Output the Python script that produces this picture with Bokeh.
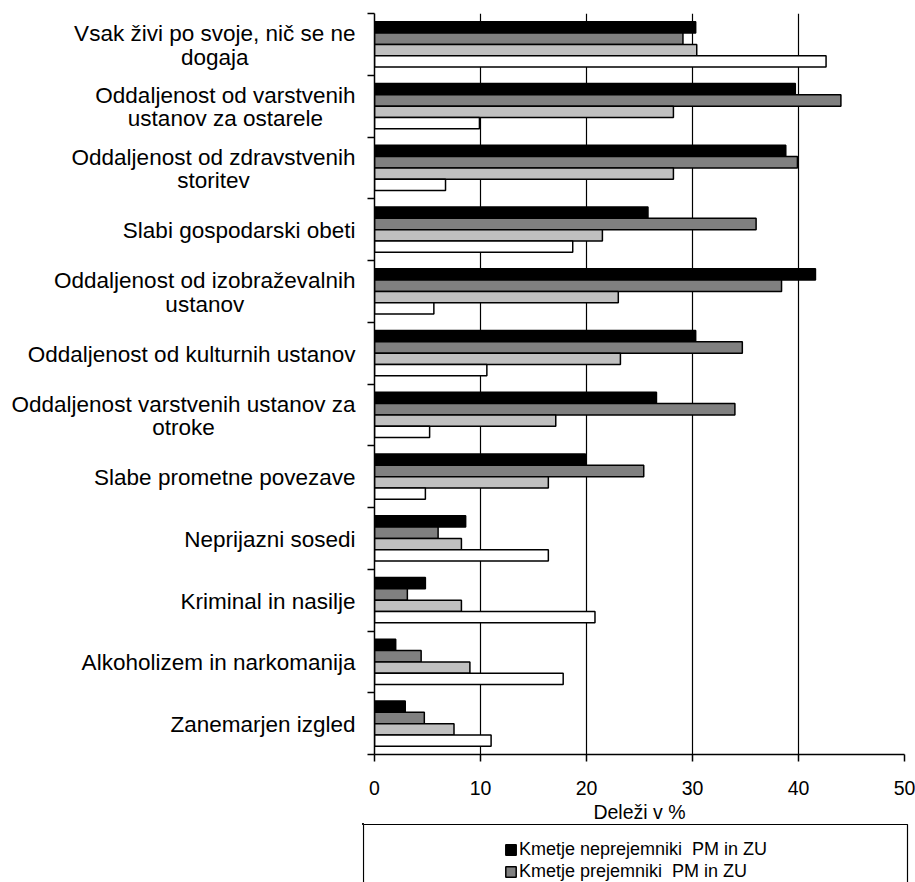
from bokeh.plotting import figure
from bokeh.layouts import column, row
from bokeh.models import Range1d, FixedTicker, Legend, LegendItem, ColumnDataSource, BoxAnnotation
from bokeh.core.properties import value
from bokeh.embed import file_html
from bokeh.resources import INLINE

# ---------------- data ----------------
categories = [
    "Vsak živi po svoje, nič se ne\ndogaja",
    "Oddaljenost od varstvenih\nustanov za ostarele",
    "Oddaljenost od zdravstvenih\nstoritev",
    "Slabi gospodarski obeti",
    "Oddaljenost od izobraževalnih\nustanov",
    "Oddaljenost od kulturnih ustanov",
    "Oddaljenost varstvenih ustanov za\notroke",
    "Slabe prometne povezave",
    "Neprijazni sosedi",
    "Kriminal in nasilje",
    "Alkoholizem in narkomanija",
    "Zanemarjen izgled",
]
neprejemniki = [30.3, 39.7, 38.8, 25.8, 41.6, 30.3, 26.6, 19.9, 8.6, 4.8, 2.0, 2.9]
prejemniki = [29.1, 44.0, 39.9, 36.0, 38.4, 34.7, 34.0, 25.4, 6.0, 3.1, 4.4, 4.7]
serija3 = [30.4, 28.2, 28.2, 21.5, 23.0, 23.2, 17.1, 16.4, 8.2, 8.2, 9.0, 7.5]
serija4 = [42.6, 9.9, 6.7, 18.7, 5.6, 10.6, 5.2, 4.8, 16.4, 20.8, 17.8, 11.0]
series_labels = ["Kmetje neprejemniki  PM in ZU", "Kmetje prejemniki  PM in ZU"]
x_ticks = [0, 10, 20, 30, 40, 50]
x_title = "Deleži v %"

FONT = "Liberation Sans"
n = len(categories)
colors = ["#000000", "#808080", "#C0C0C0", "#FFFFFF"]
series = [neprejemniki, prejemniki, serija3, serija4]

# layout geometry (page = canvas, Bokeh template has no body margin)
TOTAL_W, TOTAL_H = 915, 882
TOP, FRAME_BOTTOM = 13, 754
OVERLAP = 5
LG_TOP = 823                      # top edge of the legend box strip
MAIN_H = LG_TOP + OVERLAP
BOTTOM = MAIN_H - FRAME_BOTTOM
LABEL_W = 359
FRAME_LEFT, FRAME_RIGHT = 374, 904
BOX_LEFT, BOX_RIGHT = 362, 907

yr = Range1d(n, 0)
bar_h = 0.183
sources = []
for j, vals in enumerate(series):
    ys = [i + 0.5 + (j - 1.5) * bar_h for i in range(n)]
    sources.append(ColumnDataSource(dict(y=ys, right=vals)))

# ---------------- category labels (left strip) ----------------
lab = figure(width=LABEL_W, height=MAIN_H, output_backend="svg", toolbar_location=None,
             x_range=Range1d(0, 1), y_range=yr, x_axis_type=None, y_axis_type=None,
             min_border_left=0, min_border_right=0, min_border_top=TOP, min_border_bottom=BOTTOM)
lab.outline_line_color = None
lab.text(x=[1] * n, y=[i + 0.5 for i in range(n)], text=categories,
         anchor="center_right", text_align="center", text_baseline="middle",
         x_offset=-4, y_offset=1, text_font=value(FONT), text_font_size="22.5px",
         text_line_height=0.93, text_color="black")

# ---------------- main chart ----------------
p = figure(width=TOTAL_W - LABEL_W, height=MAIN_H, output_backend="svg", toolbar_location=None,
           x_range=Range1d(0, 50), y_range=yr,
           min_border_left=FRAME_LEFT - LABEL_W, min_border_right=TOTAL_W - FRAME_RIGHT,
           min_border_top=TOP, min_border_bottom=BOTTOM)
p.outline_line_color = None

for src, col in zip(sources, colors):
    p.hbar(y="y", left=0, right="right", height=bar_h, source=src,
           fill_color=col, line_color="black", line_width=1.5)

p.xaxis.ticker = FixedTicker(ticks=x_ticks)
p.xaxis.axis_label = x_title
p.xaxis.axis_label_text_font = FONT
p.xaxis.axis_label_text_font_size = "19.5px"
p.xaxis.axis_label_text_font_style = "normal"
p.xaxis.axis_label_text_color = "black"
p.xaxis.axis_label_standoff = 3
p.xaxis.major_label_text_font = FONT
p.xaxis.major_label_text_font_size = "19.5px"
p.xaxis.major_label_text_color = "black"
p.xaxis.major_label_standoff = 19
p.xaxis.major_tick_out = 7
p.xaxis.major_tick_in = 0
p.xaxis.minor_tick_line_color = None
p.xaxis.axis_line_color = "black"
p.xaxis.axis_line_width = 1.5
p.xaxis.major_tick_line_color = "black"
p.xaxis.major_tick_line_width = 1.5

p.yaxis.ticker = FixedTicker(ticks=[], minor_ticks=list(range(n + 1)))
p.yaxis.major_label_standoff = 0
p.yaxis.major_tick_out = 0
p.yaxis.major_tick_in = 0
p.yaxis.minor_tick_out = 7
p.yaxis.minor_tick_in = 0
p.yaxis.minor_tick_line_color = "black"
p.yaxis.minor_tick_line_width = 1.5
p.yaxis.axis_line_color = "black"
p.yaxis.axis_line_width = 1.5

p.ygrid.grid_line_color = None
p.xgrid.ticker = FixedTicker(ticks=x_ticks)
p.xgrid.grid_line_color = "black"
p.xgrid.grid_line_width = 1.2

# ---------------- legend strip (data coordinates = page pixels) ----------------
LG_H = TOTAL_H - LG_TOP
lg = figure(width=TOTAL_W, height=LG_H, output_backend="svg", toolbar_location=None,
            x_range=Range1d(BOX_LEFT, TOTAL_W), y_range=Range1d(TOTAL_H, LG_TOP),
            x_axis_type=None, y_axis_type=None,
            min_border_left=BOX_LEFT, min_border_right=0, min_border_top=0, min_border_bottom=0)
lg.outline_line_color = None
lg.grid.visible = False
lg.margin = (-OVERLAP, 0, 0, 0)

box = BoxAnnotation(left=BOX_LEFT + 1, right=BOX_RIGHT, top=LG_TOP + 1, bottom=TOTAL_H + 40,
                    fill_color="white", fill_alpha=1, line_color="black", line_alpha=1,
                    line_width=1.2)
lg.add_layout(box)

# legend proxies: same data, outside the strip's visible range
leg_r = [lg.hbar(y="y", left=0, right="right", height=bar_h, source=sources[k],
                 fill_color=colors[k], line_color="black", line_width=1.5) for k in range(2)]
ITEMS_TOP, ITEMS_H = 18, 41
leg = Legend(items=[LegendItem(label=series_labels[k], renderers=[leg_r[k]]) for k in range(2)],
             location=(142, LG_H - ITEMS_TOP - ITEMS_H), padding=0, spacing=1,
             glyph_width=13, glyph_height=13, label_height=20, label_standoff=2,
             label_text_font=FONT, label_text_font_size="18px", label_text_color="black",
             border_line_alpha=0, background_fill_alpha=0)
lg.add_layout(leg)

layout = column(row(lab, p), lg)
open("out.html", "w").write(file_html(layout, INLINE))
